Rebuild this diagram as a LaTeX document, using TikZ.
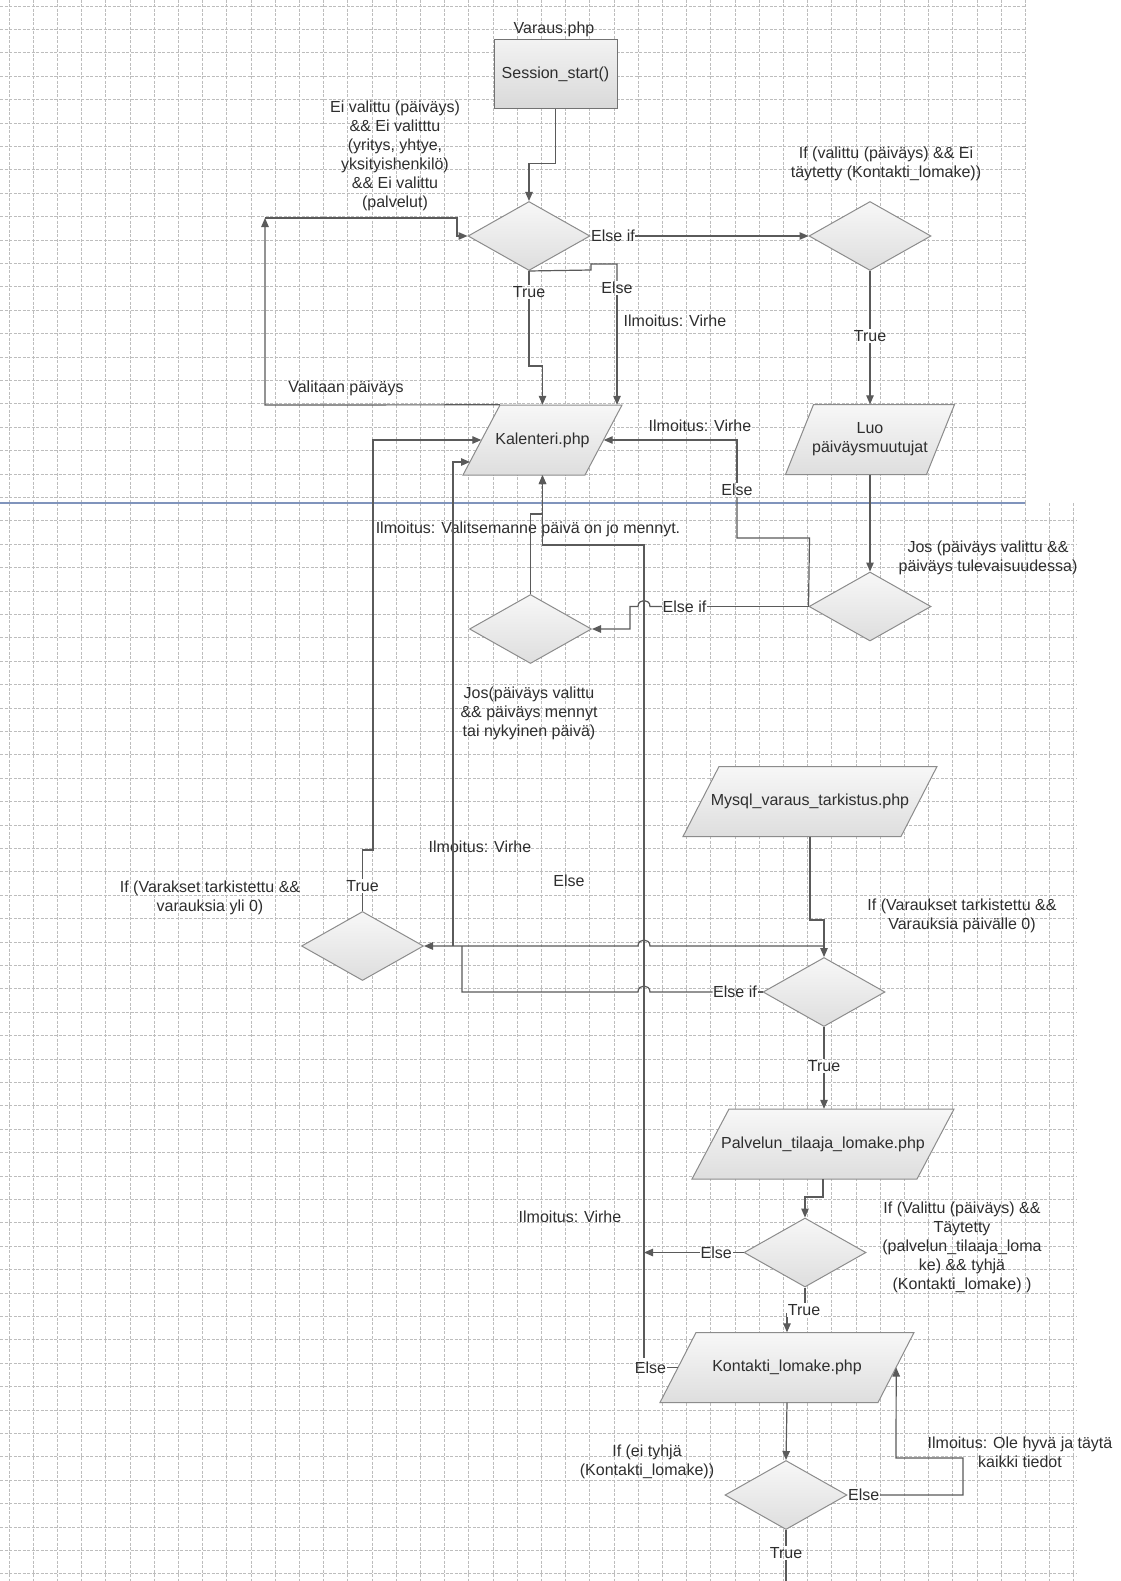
\documentclass[tikz,border=0pt]{standalone}
\usepackage{fontspec}
\setmainfont{Liberation Sans}
\usetikzlibrary{shapes.geometric,arrows.meta,calc}
\definecolor{linec}{HTML}{5A5A5A}
\definecolor{shapeb}{HTML}{8C8C8C}
\definecolor{gridc}{HTML}{BDBDBD}
\definecolor{sepblue}{HTML}{8094BC}
\definecolor{txt}{HTML}{2E2E2E}

% parallelogram: name, cx, cy, edge length, slant, text (height 70)
\newcommand{\flowpara}[6]{%
  \path[parashape] (#2-#4/2-#5/2,#3+35) -- (#2+#4/2-#5/2,#3+35)
        -- (#2+#4/2+#5/2,#3-35) -- (#2-#4/2+#5/2,#3-35) -- cycle;
  \node[paratext, minimum width=#4] (#1) at (#2,#3) {#6};
}

\begin{document}
\begin{tikzpicture}[x=1pt,y=-1pt,
  every node/.style={font=\fontsize{16}{19}\selectfont, text=txt},
  gridline/.style={gridc, line width=0.7pt, dash pattern=on 3pt off 1.5pt},
  conn/.style={linec, line width=1.2pt},
  arr/.style={conn, -{Triangle[length=9pt,width=7.5pt]}},
  dec/.style={diamond, draw=shapeb, line width=1pt, top color=white!97!black,
              bottom color=black!13, inner sep=0pt, minimum width=122pt, minimum height=69pt},
  parashape/.style={draw=shapeb, line width=1pt, top color=white!97!black, bottom color=black!13},
  paratext/.style={rectangle, inner sep=0pt, minimum height=70pt, align=center},
  sessbox/.style={rectangle, draw=black!55, line width=1pt, top color=black!5,
                  bottom color=black!15, minimum width=123pt, minimum height=69pt, inner sep=0pt},
  lab/.style={inner sep=1pt},
  tag/.style={inner sep=0.5pt},
  note/.style={align=center}]

\useasboundingbox (0,0) rectangle (1120,1581);
\fill[white] (0,0) rectangle (1120,1581);

% squared paper
\foreach \k in {0,...,42} \draw[gridline] ({8.9+24.2*\k},0) -- ({8.9+24.2*\k},503);
\foreach \k in {0,...,21} \draw[gridline] (0,{6+23.4*\k}) -- (1025,{6+23.4*\k});
\foreach \k in {0,...,44} \draw[gridline] ({8.9+24.2*\k},503) -- ({8.9+24.2*\k},1581);
\foreach \k in {22,...,67} \draw[gridline] (0,{6+23.4*\k}) -- (1077,{6+23.4*\k});
\draw[sepblue, line width=1.2pt] (0,503) -- (1025,503);

% shapes
\node (varaus) at (554,29) {Varaus.php};
\node[sessbox] (sess) at (555.5,74.5) {Session\_start()};
\node[dec] (d1) at (529,236) {};
\node[dec] (d2) at (870,236) {};
\node[dec] (d3) at (870,606.5) {};
\node[dec] (d4) at (530.5,629) {};
\node[dec] (d5) at (362.5,946) {};
\node[dec] (d6) at (824,992) {};
\node[dec] (d7) at (805,1252.5) {};
\node[dec] (d8) at (786,1495) {};
\flowpara{kal}{542.5}{440}{122}{37}{Kalenteri.php}
\flowpara{luo}{870}{439.5}{141}{28}{Luo\\päiväysmuutujat}
\flowpara{mys}{810}{801.5}{218}{36}{Mysql\_varaus\_tarkistus.php}
\flowpara{pal}{823}{1144}{225}{37}{Palvelun\_tilaaja\_lomake.php}
\flowpara{kon}{787}{1367.5}{218}{36}{Kontakti\_lomake.php}

% free texts
\node[note] at (395,156) {Ei valittu (päiväys)\\\&\& Ei valitttu\\(yritys, yhtye,\\yksityishenkilö)\\\&\& Ei valittu\\(palvelut)};
\node[note] at (886,164) {If (valittu (päiväys) \&\& Ei\\täytetty (Kontakti\_lomake))};
\node at (675,321) {Ilmoitus: Virhe};
\node at (346,388) {Valitaan päiväys};
\node at (700,426) {Ilmoitus: Virhe};
\node at (528,529) {Ilmoitus: Valitsemanne päivä on jo mennyt.};
\node[note] at (988,558) {Jos (päiväys valittu \&\&\\päiväys tulevaisuudessa)};
\node[note] at (529,713) {Jos(päiväys valittu\\\&\& päiväys mennyt\\tai nykyinen päivä)};
\node at (480,847) {Ilmoitus: Virhe};
\node at (569,881) {Else};
\node[note] at (210,898) {If (Varakset tarkistettu \&\&\\varauksia yli 0)};
\node[note] at (962,916) {If (Varaukset tarkistettu \&\&\\Varauksia päivälle 0)};
\node at (570,1217) {Ilmoitus: Virhe};
\node[note] at (962,1247) {If (Valittu (päiväys) \&\&\\Täytetty\\(palvelun\_tilaaja\_loma\\ke) \&\& tyhjä\\(Kontakti\_lomake) )};
\node[note] at (647,1462) {If (ei tyhjä\\(Kontakti\_lomake))};
\node[note] at (1020,1452) {Ilmoitus: Ole hyvä ja täytä\\kaikki tiedot};

% helper points
\coordinate (kin) at (470,462);
\coordinate (vx) at (644,1358);
\coordinate (j946) at (824,946);
\coordinate (bottomend) at (786,1590);

% Session_start -> first decision
\draw[arr] (sess.south) -- ++(0,54) -| (d1.north);

% first decision: Else if
\node[tag, anchor=west] (ei1) at (d1.east) {Else if};
\draw[arr] (ei1.east) -- (d2.west);

% second decision: True
\node[lab] (t2) at (870,336) {True};
\draw[conn] (d2.south) -- (t2.north);
\draw[arr] (t2.south) -- (luo.north);
\draw[arr] (luo.south) -- (d3.north);

% first decision: True
\node[lab] (t1) at (529,292) {True};
\draw[conn] (d1.south) -- (t1.north);
\draw[arr] (t1.south) -- (529,366) -- (542.5,366) -- (kal.north);

% first decision: Else
\node[lab] (e1) at (617,288) {Else};
\draw[conn] (d1.south) -- (591,270) -- (591,264) -- (617,264) -- (e1.north);
\draw[arr] (e1.south) -- (kal.north -| e1.south);

% date chosen: back to the first decision
\draw[arr] ([xshift=18.5pt]kal.north west) -- (265,405) -- (265,218);
\draw[arr] (265,218) -- (457,218) -- (457,236) -- (d1.west);

% third decision: Else
\node[lab] (e3) at (737,490) {Else};
\draw[conn] (d3.west) -- (809.5,538) -- (737,538) -- (e3.south);
\draw[arr] (e3.north) -- (737,440) -- (kal.east);

% third decision: Else if
\node[tag, anchor=east] (ei3) at ([xshift=-101.5pt]d3.west) {Else if};
\draw[conn] (d3.west) -- (ei3.east);
\draw[arr] (ei3.west) -- (650,606.5) .. controls (650,598.5) and (638,598.5) .. (638,606.5)
      -- (630,606.5) -- (630,629) -- (d4.east);

% past date -> Kalenteri
\draw[arr] (d4.north) -- (530.5,514) -- (542.5,514) -- (kal.south);

% Kontakti_lomake: Else
\node[tag, anchor=east] (ek) at ([xshift=-11pt]kon.west) {Else};
\draw[conn] (ek.east) -- (kon.west);
\draw[arr] (vx) -- (644,545) -- (542.5,545) -- (kal.south);

% seventh decision: Else
\node[tag, anchor=east] (e7) at ([xshift=-11pt]d7.west) {Else};
\draw[conn] (d7.west) -- (e7.east);
\draw[arr] (e7.west) -- (e7.west -| vx);

% Mysql -> sixth decision
\draw[arr] (mys.south) -- (810,920) -- (824,920) -- (d6.north);
\draw[arr] (j946) -- (650,946) .. controls (650,938) and (638,938) .. (638,946) -- (d5.east);

% sixth decision: Else if
\node[tag, anchor=east] (ei6) at ([xshift=-5pt]d6.west) {Else if};
\draw[conn] (d6.west) -- (ei6.east);
\draw[conn] (ei6.west) -- (650,992) .. controls (650,984) and (638,984) .. (638,992)
      -- (462,992) -- (462,946);
\draw[arr] (453,946) -- (453,462) -- (kin);

% fifth decision: True
\node[lab] (t5) at (362.5,886) {True};
\draw[conn] (d5.north) -- (t5.south);
\draw[arr] (t5.north) -- (362.5,850) -- (373,850) -- (373,440) -- (kal.west);

% sixth decision: True
\node[lab] (t6) at (824,1066) {True};
\draw[conn] (d6.south) -- (t6.north);
\draw[arr] (t6.south) -- (pal.north -| t6.south);

% Palvelun -> seventh decision
\draw[arr] (pal.south) -- (823,1197) -- (805,1197) -- (d7.north);

% seventh decision: True
\draw[arr] (d7.south) -- (805,1314) -- (787,1314) -- (kon.north);
\node[lab, fill=white] (t7) at (804,1310) {True};

% Kontakti -> last decision
\draw[arr] (kon.south) -- (d8.north);
\node[tag, anchor=west] (e8) at (d8.east) {Else};
\draw[arr] (e8.east) -- (963,1495) -- (963,1458) -- (896,1458) -- (kon.east);
\node[lab] (t8) at (786,1553) {True};
\draw[conn] (d8.south) -- (t8.north);
\draw[conn] (t8.south) -- (bottomend);

\end{tikzpicture}
\end{document}
